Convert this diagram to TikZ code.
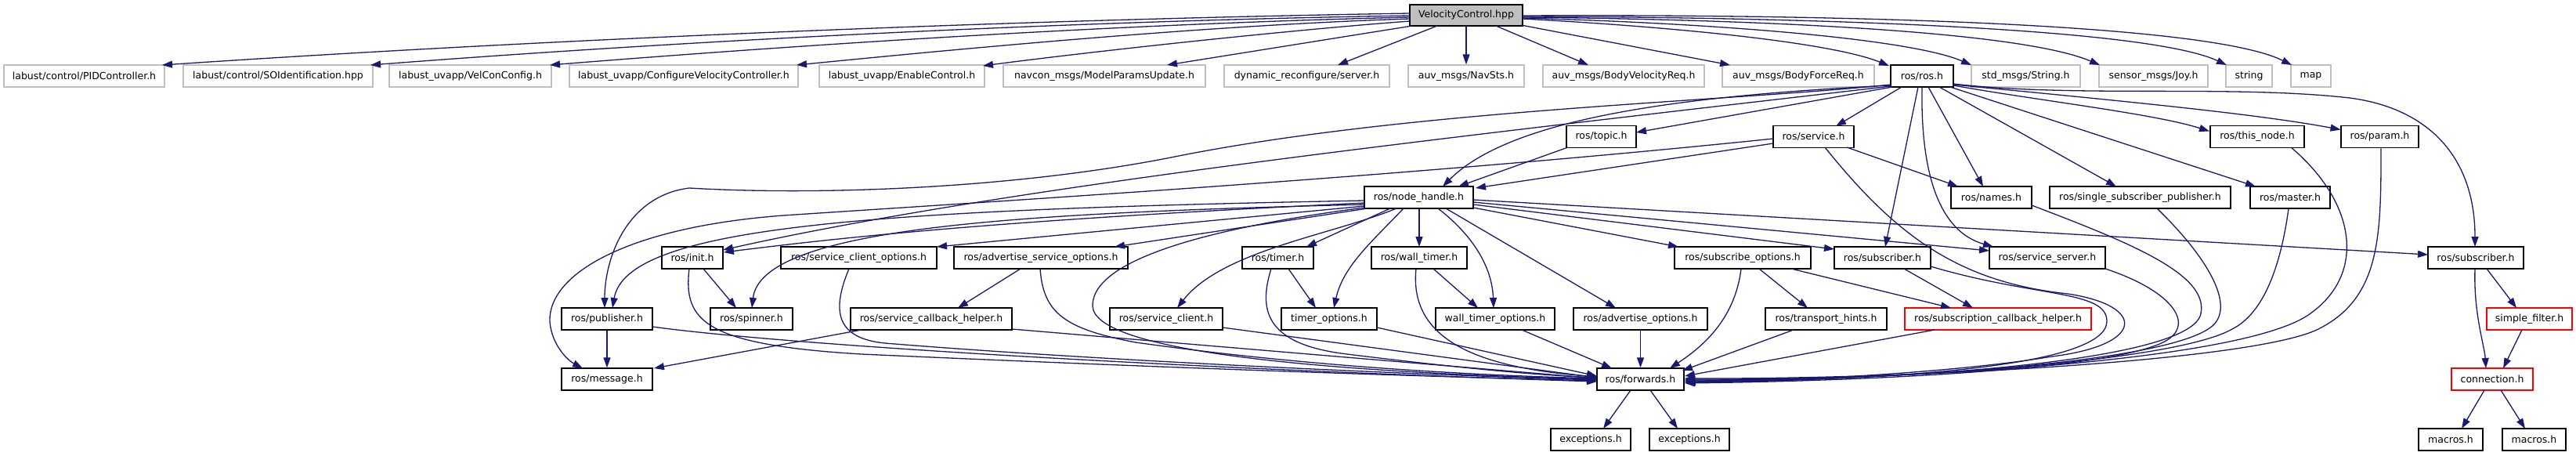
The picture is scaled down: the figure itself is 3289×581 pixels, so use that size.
\documentclass[tikz,border=0pt]{standalone}
\usepackage{fontspec}
\setmainfont{DejaVu Sans}
\usetikzlibrary{arrows.meta,calc}
\definecolor{edgec}{HTML}{191970}
\definecolor{grayb}{HTML}{BFBFBF}
\newcommand\nfont{\fontsize{12.5pt}{14pt}\selectfont}
\tikzset{
  nb/.style={draw=black, line width=1.4pt, fill=white, minimum height=28pt, inner sep=0pt, font=\nfont},
  gb/.style={nb, draw=grayb},
  rb/.style={nb, draw=red},
  e/.style={draw=edgec, line width=1.3pt, -{Triangle[length=13pt,width=9pt]}},
}
\begin{document}
\begin{tikzpicture}[x=1pt,y=-1pt]
\fill[white] (0,0) rectangle (3289,581);
\useasboundingbox (0,0) rectangle (3289,581);
% root
\node[nb, fill=grayb, minimum width=144pt, minimum height=27pt] (root) at (1872,19.5) {VelocityControl.hpp};
% row 1
\node[gb, minimum width=205pt] (pid) at (107.5,97) {labust/control/PIDController.h};
\node[gb, minimum width=242pt] (soi) at (355,97) {labust/control/SOIdentification.hpp};
\node[gb, minimum width=207pt] (velcon) at (600.5,97) {labust\_uvapp/VelConConfig.h};
\node[gb, minimum width=292pt] (config) at (873,97) {labust\_uvapp/ConfigureVelocityController.h};
\node[gb, minimum width=211pt] (enable) at (1151.5,97) {labust\_uvapp/EnableControl.h};
\node[gb, minimum width=258pt] (model) at (1410,97) {navcon\_msgs/ModelParamsUpdate.h};
\node[gb, minimum width=211pt] (drs) at (1668.5,97) {dynamic\_reconfigure/server.h};
\node[gb, minimum width=148pt] (navsts) at (1872,97) {auv\_msgs/NavSts.h};
\node[gb, minimum width=206pt] (bvel) at (2073,97) {auv\_msgs/BodyVelocityReq.h};
\node[gb, minimum width=194pt] (bforce) at (2296,97) {auv\_msgs/BodyForceReq.h};
\node[nb, minimum width=80pt] (rosh) at (2454,97) {ros/ros.h};
\node[gb, minimum width=139pt] (strmsg) at (2586.5,97) {std\_msgs/String.h};
\node[gb, minimum width=139pt] (joy) at (2749.5,97) {sensor\_msgs/Joy.h};
\node[gb, minimum width=59pt] (string) at (2871.5,97) {string};
\node[gb, minimum width=51pt] (map) at (2950.5,97) {map};
% row 2
\node[nb, minimum width=89pt] (topic) at (2044.5,174.5) {ros/topic.h};
\node[nb, minimum width=103pt] (service) at (2315.5,174.5) {ros/service.h};
\node[nb, minimum width=120pt] (thisnode) at (2882,174.5) {ros/this\_node.h};
\node[nb, minimum width=99pt] (param) at (3038.5,174.5) {ros/param.h};
% row 3
\node[nb, minimum width=139pt] (nh) at (1811.5,252) {ros/node\_handle.h};
\node[nb, minimum width=103pt] (names) at (2542.5,252) {ros/names.h};
\node[nb, minimum width=231pt] (ssp) at (2732.5,252) {ros/single\_subscriber\_publisher.h};
\node[nb, minimum width=102pt] (master) at (2924,252) {ros/master.h};
% row 4
\node[nb, minimum width=78pt] (init) at (884,329) {ros/init.h};
\node[nb, minimum width=199pt] (sco) at (1096.5,329) {ros/service\_client\_options.h};
\node[nb, minimum width=222pt] (aso) at (1329,329) {ros/advertise\_service\_options.h};
\node[nb, minimum width=91pt] (timer) at (1631.5,329) {ros/timer.h};
\node[nb, minimum width=122pt] (wtimer) at (1812,329) {ros/wall\_timer.h};
\node[nb, minimum width=174pt] (subopt) at (2225,329) {ros/subscribe\_options.h};
\node[nb, minimum width=123pt] (sub1) at (2403.5,329) {ros/subscriber.h};
\node[nb, minimum width=148pt] (ssrv) at (2614,329) {ros/service\_server.h};
\node[nb, minimum width=122pt] (sub2) at (3161,329) {ros/subscriber.h};
% row 5
\node[nb, minimum width=116pt] (pub) at (775,407) {ros/publisher.h};
\node[nb, minimum width=105pt] (spinner) at (959.5,407) {ros/spinner.h};
\node[nb, minimum width=206pt] (sch) at (1189,407) {ros/service\_callback\_helper.h};
\node[nb, minimum width=144pt] (sclient) at (1489,407) {ros/service\_client.h};
\node[nb, minimum width=122pt] (topt) at (1697,407) {timer\_options.h};
\node[nb, minimum width=152pt] (wtopt) at (1909,407) {wall\_timer\_options.h};
\node[nb, minimum width=171pt] (advopt) at (2094.5,407) {ros/advertise\_options.h};
\node[nb, minimum width=155pt] (thints) at (2331.5,407) {ros/transport\_hints.h};
\node[rb, minimum width=238pt] (subcb) at (2551,407) {ros/subscription\_callback\_helper.h};
\node[rb, minimum width=109pt] (sfilter) at (3229.5,407) {simple\_filter.h};
% row 6
\node[nb, minimum width=116pt] (msg) at (775,484) {ros/message.h};
\node[nb, minimum width=111pt] (fw) at (2094.5,484) {ros/forwards.h};
\node[rb, minimum width=104pt] (conn) at (3182,484) {connection.h};
% row 7
\node[nb, minimum width=102pt] (exc1) at (2031,561) {exceptions.h};
\node[nb, minimum width=102pt] (exc2) at (2157,561) {exceptions.h};
\node[nb, minimum width=82pt] (mac1) at (3129,561) {macros.h};
\node[nb, minimum width=81pt] (mac2) at (3235.5,561) {macros.h};

% ---- edges from root
\draw[e] ($(root)+(-72,-2.5)$) .. controls (1300,25) and (700,50) .. ($(pid)+(99.5,-14)$);
\draw[e] ($(root)+(-72,0.5)$) .. controls (1400,26) and (900,50) .. ($(soi)+(118,-14)$);
\draw[e] ($(root)+(-72,2.5)$) .. controls (1450,30) and (1050,55) .. ($(velcon)+(101.5,-14)$);
\draw[e] ($(root)+(-72,4.5)$) .. controls (1550,32) and (1250,60) .. ($(config)+(144,-14)$);
\draw[e] ($(root)+(-72,7.5)$) .. controls (1650,38) and (1400,65) .. ($(enable)+(103.5,-13)$);
\draw[e] ($(root)+(-69,13.5)$) -- ($(model)+(80,-14)$);
\draw[e] ($(root)+(-37,13.5)$) -- ($(drs)+(39.5,-14)$);
\draw[e] (root.south) -- (navsts.north);
\draw[e] ($(root)+(38,13.5)$) -- ($(bvel)+(-45,-14)$);
\draw[e] ($(root)+(70,12.5)$) -- ($(bforce)+(-87,-14)$);
\draw[e] ($(root)+(72,4.5)$) .. controls (2150,35) and (2340,55) .. ($(rosh)+(-42,-13)$);
\draw[e] ($(root)+(72,3.5)$) .. controls (2200,30) and (2440,50) .. ($(strmsg)+(-69.5,-14)$);
\draw[e] ($(root)+(72,2.5)$) .. controls (2250,25) and (2580,40) .. ($(joy)+(-68.5,-14)$);
\draw[e] ($(root)+(72,1.5)$) .. controls (2300,22) and (2740,35) .. ($(string)+(-28.5,-14)$);
\draw[e] ($(root)+(72,0.5)$) .. controls (2350,18) and (2820,30) .. ($(map)+(-24.5,-14)$);

% ---- edges from ros.h
\draw[e] ($(rosh)+(-38,14)$) -- ($(topic)+(44.5,-5.5)$);
\draw[e] ($(rosh)+(-26,14)$) -- ($(service)+(28.5,-13.5)$);
\draw[e] ($(rosh)+(8,14)$) -- ($(names)+(-10.5,-14)$);
\draw[e] ($(rosh)+(-5,14)$) -- ($(sub1)+(3.5,-14)$);
\draw[e] ($(rosh)+(0,14)$) .. controls (2452,220) and (2475,295) .. ($(ssrv)+(-69,-14)$);
\draw[e] ($(rosh)+(22,14)$) -- ($(ssp)+(-30.5,-14)$);
\draw[e] ($(rosh)+(36,14)$) -- ($(master)+(-44,-14)$);
\draw[e] ($(rosh)+(40,12)$) .. controls (2600,128) and (2750,145) .. ($(thisnode)+(-61,-7)$);
\draw[e] ($(rosh)+(40,11)$) .. controls (2700,128) and (2880,145) .. ($(param)+(-50,-9)$);
\draw[e] ($(rosh)+(40,10)$) .. controls (2650,125) and (2850,108) .. (3000,125)
   .. controls (3100,138) and (3160,200) .. ($(sub2)+(-1,-14)$);
\draw[e] ($(rosh)+(-40,12)$) .. controls (2150,122) and (1930,150) .. ($(nh)+(30.5,-14)$);
\draw[e] ($(rosh)+(-40,13)$) .. controls (1900,170) and (1300,235) .. ($(init)+(39,-10)$);
\draw[e] ($(rosh)+(-40,11)$) .. controls (2200,130) and (1800,140) .. (1500,200)
   .. controls (1300,240) and (1050,250) .. (880,240)
   .. controls (800,250) and (772,330) .. ($(pub)+(-3,-14)$);

% ---- topic / service
\draw[e] ($(topic)+(-42.5,13.5)$) -- ($(nh)+(50.5,-14)$);
\draw[e] ($(service)+(-51.5,8.5)$) -- ($(nh)+(72.5,-12)$);
\draw[e] ($(service)+(42.5,13.5)$) -- ($(names)+(-42.5,-14)$);
\draw[e] ($(service)+(14.5,13.5)$) .. controls (2420,300) and (2500,360) .. (2640,375)
   .. controls (2740,390) and (2740,440) .. (2620,455)
   .. controls (2500,475) and (2300,486) .. ($(fw)+(57.5,4)$);
\draw[e] ($(service)+(-51.5,2.5)$) .. controls (1800,225) and (1300,255) .. (1000,275)
   .. controls (800,290) and (700,350) .. (702,410)
   .. controls (704,440) and (725,460) .. ($(msg)+(-31,-14)$);

% ---- node_handle
\draw[e] ($(nh)+(-69.5,4)$) .. controls (1100,268) and (800,290) .. ($(pub)+(7,-14)$);
\draw[e] ($(nh)+(-69.5,7)$) .. controls (1300,280) and (1100,300) .. ($(init)+(40,-7)$);
\draw[e] ($(nh)+(-69.5,9)$) .. controls (1300,272) and (972,290) .. ($(spinner)+(0.5,-14)$);
\draw[e] ($(nh)+(-69.5,11)$) -- ($(sco)+(99.5,-14)$);
\draw[e] ($(nh)+(-65.5,14)$) -- ($(aso)+(94,-14)$);
\draw[e] ($(nh)+(-28.5,14)$) .. controls (1700,300) and (1560,320) .. ($(sclient)+(14,-14)$);
\draw[e] ($(nh)+(-36.5,14)$) -- ($(timer)+(36.5,-14)$);
\draw[e] ($(nh)+(-19.5,14)$) .. controls (1750,310) and (1715,340) .. ($(topt)+(6,-14)$);
\draw[e] ($(nh)+(0.5,14)$) -- ($(wtimer)+(0,-14)$);
\draw[e] ($(nh)+(24.5,14)$) .. controls (1880,300) and (1905,340) .. ($(wtopt)+(-2,-14)$);
\draw[e] ($(nh)+(34.5,14)$) -- ($(advopt)+(-31.5,-14)$);
\draw[e] ($(nh)+(69.5,13)$) -- ($(subopt)+(-82,-14)$);
\draw[e] ($(nh)+(69.5,9)$) -- ($(sub1)+(-61.5,-11)$);
\draw[e] ($(nh)+(69.5,6)$) -- ($(ssrv)+(-74,-9)$);
\draw[e] ($(nh)+(69.5,3)$) -- ($(sub2)+(-61,-4)$);
\draw[e] ($(nh)+(-69.5,13)$) .. controls (1550,290) and (1395,330) .. (1395,390)
   .. controls (1395,450) and (1700,475) .. ($(fw)+(-55.5,0)$);

% ---- lower left
\draw[e] ($(init)+(14,14)$) -- ($(spinner)+(-19.5,-14)$);
\draw[e] ($(init)+(-4,14)$) .. controls (872,410) and (900,440) .. (1100,452)
   .. controls (1500,470) and (1800,480) .. ($(fw)+(-55.5,2)$);
\draw[e] (pub.south) -- (msg.north);
\draw[e] ($(pub)+(58,10)$) .. controls (1000,440) and (1500,470) .. ($(fw)+(-55.5,3)$);
\draw[e] ($(sco)+(-12.5,14)$) .. controls (1060,400) and (1070,432) .. (1130,438)
   .. controls (1400,460) and (1800,478) .. ($(fw)+(-55.5,1)$);
\draw[e] ($(aso)+(-26,14)$) -- ($(sch)+(34,-14)$);
\draw[e] ($(aso)+(-1,14)$) .. controls (1332,400) and (1360,420) .. (1450,437)
   .. controls (1650,465) and (1850,478) .. ($(fw)+(-55.5,-1)$);
\draw[e] ($(sch)+(-89,14)$) -- ($(msg)+(60,-14)$);
\draw[e] ($(sch)+(103,13)$) -- ($(fw)+(-55.5,-1)$);
\draw[e] ($(sclient)+(72,11)$) -- ($(fw)+(-55.5,-2)$);
\draw[e] ($(timer)+(13.5,14)$) -- ($(topt)+(-17,-14)$);
\draw[e] ($(timer)+(-8.5,14)$) .. controls (1605,400) and (1620,440) .. (1720,452)
   .. controls (1850,468) and (1950,478) .. ($(fw)+(-55.5,-2)$);
\draw[e] ($(topt)+(61,11)$) -- ($(fw)+(-55.5,-4)$);
\draw[e] ($(wtimer)+(18,14)$) -- ($(wtopt)+(-22,-14)$);
\draw[e] ($(wtimer)+(-4,14)$) .. controls (1798,440) and (1900,470) .. ($(fw)+(-55.5,-3)$);
\draw[e] ($(wtopt)+(34,14)$) -- ($(fw)+(-36.5,-14)$);
\draw[e] (advopt.south) -- (fw.north);

% ---- lower right
\draw[e] ($(subopt)+(-2,14)$) .. controls (2215,410) and (2170,445) .. ($(fw)+(37.5,-14)$);
\draw[e] ($(subopt)+(21,14)$) -- ($(thints)+(-23.5,-14)$);
\draw[e] ($(subopt)+(62,14)$) -- ($(subcb)+(-60,-14)$);
\draw[e] ($(thints)+(-41.5,14)$) -- ($(fw)+(53.5,-11)$);
\draw[e] ($(subcb)+(-81,14)$) -- ($(fw)+(56.5,-4)$);
\draw[e] ($(sub1)+(27.5,14)$) -- ($(subcb)+(-32,-14)$);
\draw[e] ($(sub1)+(61.5,11)$) .. controls (2600,380) and (2690,370) .. (2690,410)
   .. controls (2690,470) and (2400,485) .. ($(fw)+(56.5,4)$);
\draw[e] ($(ssrv)+(74,14)$) .. controls (2770,370) and (2800,410) .. (2770,432)
   .. controls (2720,470) and (2400,486) .. ($(fw)+(56.5,5)$);
\draw[e] ($(names)+(51.5,10)$) .. controls (2720,310) and (2820,350) .. (2810,400)
   .. controls (2800,460) and (2450,485) .. ($(fw)+(56.5,3)$);
\draw[e] ($(ssp)+(21.5,14)$) .. controls (2810,320) and (2850,380) .. (2830,410)
   .. controls (2800,460) and (2450,485) .. ($(fw)+(56.5,2)$);
\draw[e] ($(master)+(-2,14)$) .. controls (2912,340) and (2890,400) .. (2850,420)
   .. controls (2780,460) and (2450,485) .. ($(fw)+(56.5,1)$);
\draw[e] ($(thisnode)+(43,13.5)$) .. controls (3010,260) and (3020,350) .. (2950,400)
   .. controls (2870,460) and (2450,485) .. ($(fw)+(56.5,0)$);
\draw[e] ($(param)+(1.5,13.5)$) .. controls (3040,300) and (3040,380) .. (2960,420)
   .. controls (2880,460) and (2450,484) .. ($(fw)+(56.5,-1)$);

% ---- subscriber (message_filters) branch
\draw[e] ($(sub2)+(14,14)$) -- ($(sfilter)+(-16.5,-14)$);
\draw[e] ($(sub2)+(-1,14)$) .. controls (3158,400) and (3172,440) .. ($(conn)+(-8,-14)$);
\draw[e] ($(sfilter)+(-9.5,14)$) -- ($(conn)+(14,-14)$);
\draw[e] ($(conn)+(-10,14)$) -- ($(mac1)+(14,-14)$);
\draw[e] ($(conn)+(11,14)$) -- ($(mac2)+(-11.5,-14)$);
\draw[e] ($(fw)+(-12.5,14)$) -- ($(exc1)+(16,-14)$);
\draw[e] ($(fw)+(12.5,14)$) -- ($(exc2)+(-15,-14)$);
\end{tikzpicture}
\end{document}
